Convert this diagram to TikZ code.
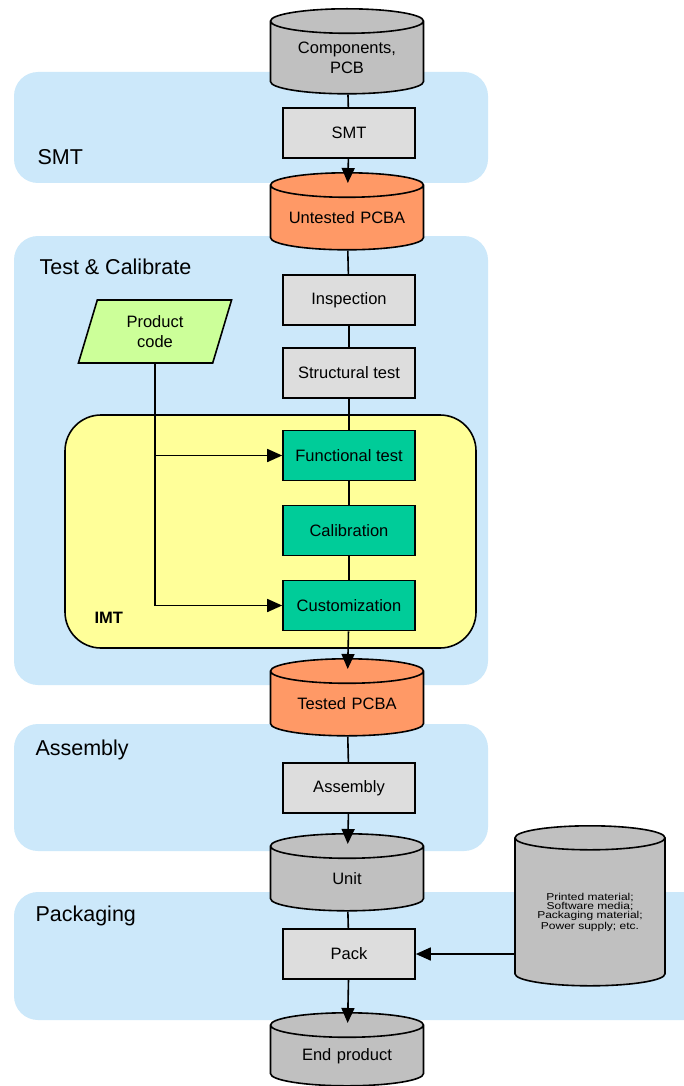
\documentclass[tikz,border=0pt]{standalone}
\usepackage{fontspec}
\setmainfont{Liberation Sans}
\newfontfamily\widefont[FakeStretch=1.2]{Liberation Sans}
\usetikzlibrary{positioning, arrows.meta, shapes.geometric, calc}
\definecolor{bandblue}{RGB}{204,232,250}
\definecolor{imtyellow}{RGB}{255,255,153}
\definecolor{boxgray}{RGB}{221,221,221}
\definecolor{storegray}{RGB}{192,192,192}
\definecolor{pcbaorange}{RGB}{255,153,102}
\definecolor{imtgreen}{RGB}{0,204,153}
\definecolor{codelime}{RGB}{204,255,153}

\begin{document}
\begin{tikzpicture}[x=1pt,y=-1pt,
    band/.style={fill=bandblue,rounded corners=24pt},
    bandlabel/.style={anchor=west,font=\fontsize{21.5}{25}\selectfont},
    proc/.style={draw,line width=1.6pt,fill=boxgray,minimum width=132pt,minimum height=50pt,inner sep=0pt,font=\fontsize{16.5}{20}\selectfont},
    imtproc/.style={proc,fill=imtgreen},
    store/.style={draw,line width=1.6pt,cylinder,shape border rotate=90,aspect=0.16,text width=153pt,minimum height=77pt,inner sep=0pt,align=center,anchor=north,font=\fontsize{16.5}{20}\selectfont},
    link/.style={line width=1.6pt},
    arr/.style={line width=1.6pt,-{Triangle[length=15pt,width=13pt]}}]
  \fill[white] (0,0) rectangle (683,1086);
  \useasboundingbox (0,0) rectangle (683,1086);
  \fill[band] (14,72) rectangle (488,183);
  \fill[band] (14,236) rectangle (488,685);
  \fill[band] (14,724) rectangle (488,851);
  \fill[band] (14,892) rectangle (730,1020);
  \node[bandlabel] at (34,157) {SMT};
  \node[bandlabel] at (36,267) {Test \& Calibrate};
  \node[bandlabel] at (32,750) {Assembly};
  \node[bandlabel] at (32,916) {Packaging};
  \draw[line width=1.6pt,fill=imtyellow,rounded corners=36pt] (65,415) rectangle (476,648);
  \node[anchor=west,font=\fontsize{16.5}{20}\selectfont\bfseries] at (91,618) {IMT};

  \node[store,fill=storegray,minimum height=85pt] (comp) at (347,8) {Components,\\PCB};
  \node[proc] (smt) at (349,133) {SMT};
  \node[store,fill=pcbaorange] (untested) at (347,172) {Untested PCBA};
  \node[proc] (insp) at (349,300) {Inspection};
  \node[proc] (struct) at (349,373) {Structural test};
  \node[imtproc] (func) at (349,455.5) {Functional test};
  \node[imtproc] (calib) at (349,530.5) {Calibration};
  \node[imtproc] (cust) at (349,605.5) {Customization};
  \node[store,fill=pcbaorange] (tested) at (347,658) {Tested PCBA};
  \node[proc] (asm) at (349,788) {Assembly};
  \node[store,fill=storegray] (unit) at (347,833) {Unit};
  \node[proc] (pack) at (349,954) {Pack};
  \node[store,fill=storegray,minimum height=73pt] (endprod) at (347,1012) {End product};
  \node[store,fill=storegray,text width=150pt,minimum height=160pt,font=\fontsize{10}{9.3}\widefont] (mat) at (590,825) {Printed material;\\Software media;\\Packaging material;\\Power supply; etc.};
  \node[draw,line width=1.6pt,fill=codelime,trapezium,trapezium left angle=75,trapezium right angle=105,trapezium stretches=true,minimum width=154pt,minimum height=63pt,align=center,font=\fontsize{16.5}{20}\selectfont] (code) at (155,331.5) {Product\\code};

  \draw[link] (comp) -- (smt);
  \draw[arr,shorten >=-11pt] (smt) -- (untested);
  \draw[link] (untested) -- (insp);
  \draw[link] (insp) -- (struct);
  \draw[link] (struct) -- (func);
  \draw[link] (func) -- (calib);
  \draw[link] (calib) -- (cust);
  \draw[arr,shorten >=-11pt] (cust) -- (tested);
  \draw[link] (tested) -- (asm);
  \draw[arr,shorten >=-11pt] (asm) -- (unit);
  \draw[link] (unit) -- (pack);
  \draw[arr,shorten >=-11pt] (pack) -- (endprod);
  \draw[arr] (mat.west |- pack) -- (pack.east);
  \draw[arr] (code.south) |- (cust.west);
  \draw[arr] (code.south |- func.west) -- (func.west);
\end{tikzpicture}
\end{document}
